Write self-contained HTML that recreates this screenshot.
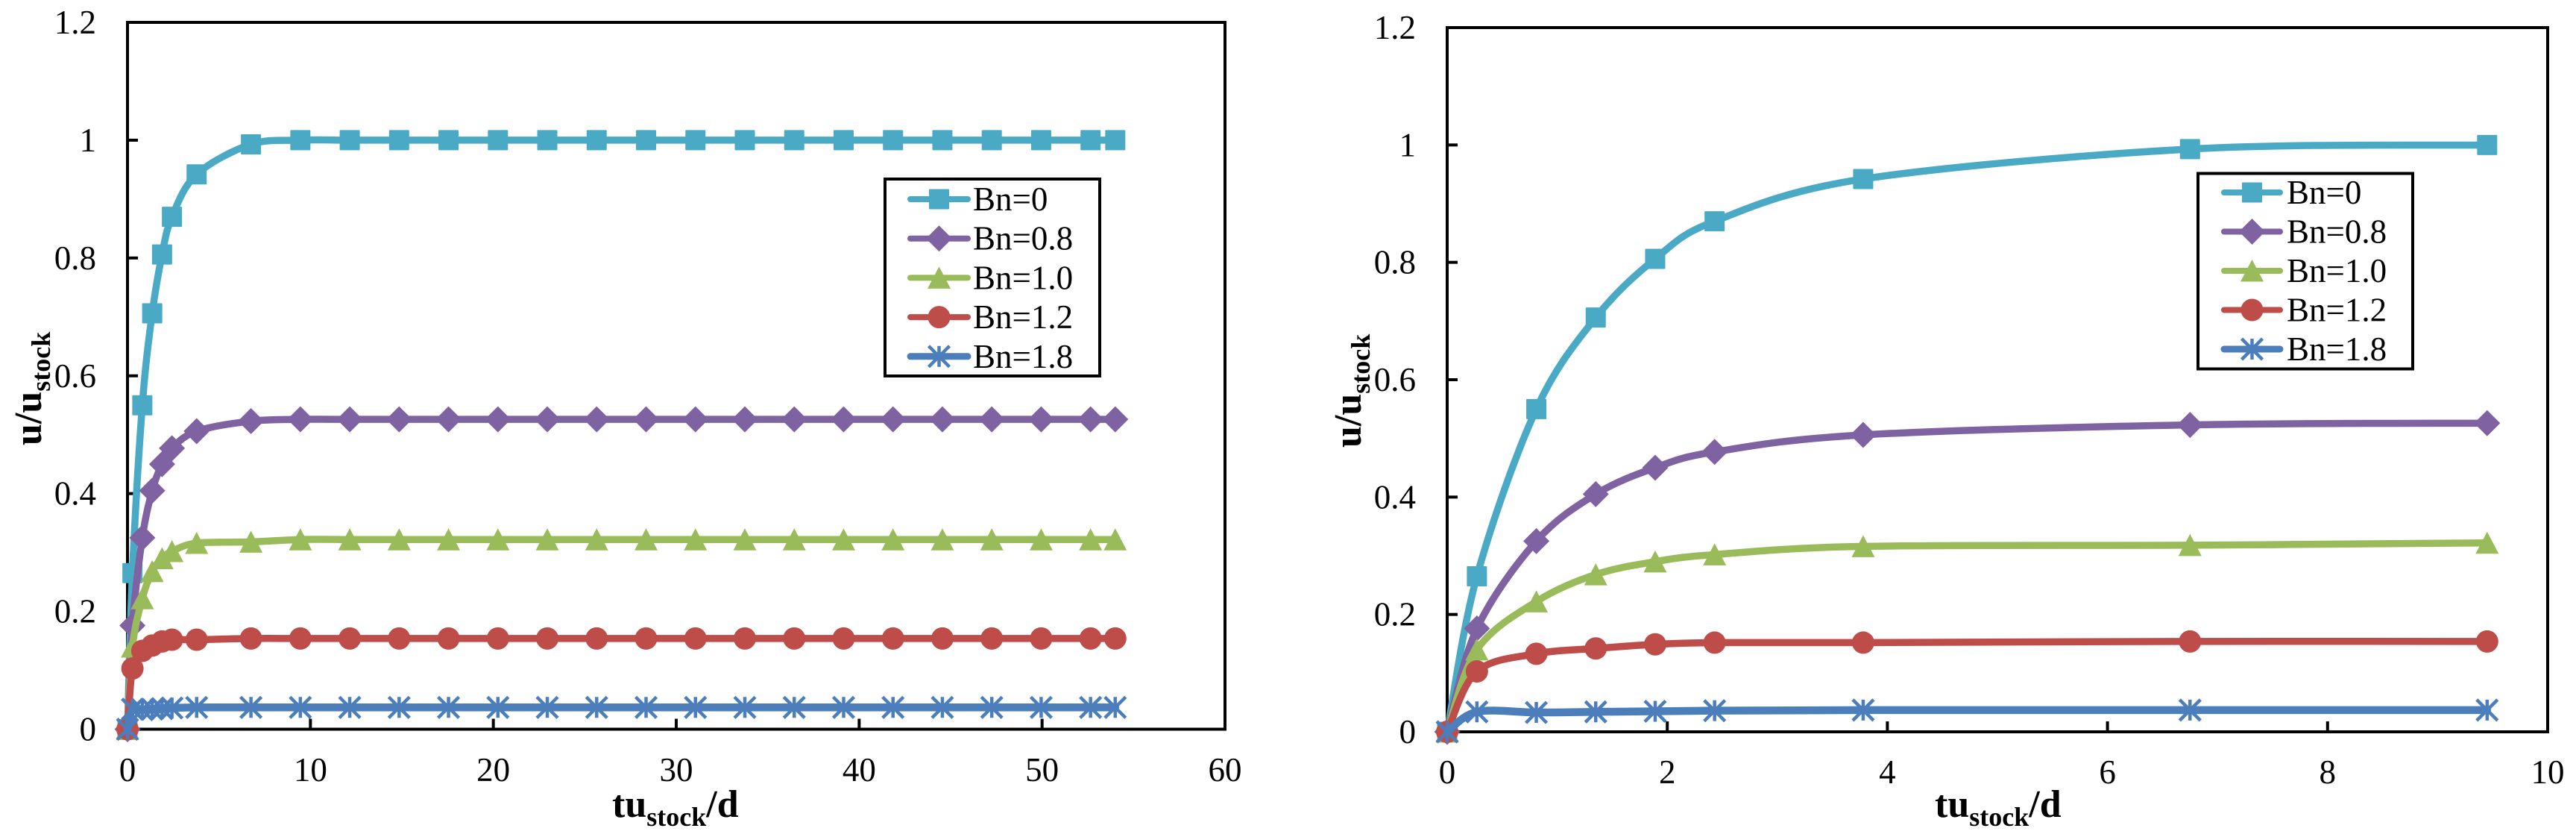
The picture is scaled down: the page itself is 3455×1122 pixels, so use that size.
<!DOCTYPE html>
<html lang="en">
<head>
<meta charset="utf-8">
<title>Velocity ratio charts</title>
<style>
html,body{margin:0;padding:0;background:#fff;width:3455px;height:1122px;overflow:hidden}
svg{display:block}
text{font-family:"Liberation Serif",serif;fill:#000}
</style>
</head>
<body>
<svg id="figure" xmlns="http://www.w3.org/2000/svg" width="3455" height="1122" viewBox="0 0 3455 1122"></svg>
<script>
// Shared data: time values and five Bn series
const tuValues = [0,0.27,0.81,1.35,1.89,2.43,3.78,6.75,9.45,12.15,14.85,17.55,20.25,22.95,25.65,28.35,31.05,33.75,36.45,39.15,41.85,44.55,47.25,49.95,52.65,54];
const bn0Values = [0,0.265,0.55,0.706,0.806,0.87,0.942,0.993,1,1,1,1,1,1,1,1,1,1,1,1,1,1,1,1,1,1];
const bn08Values = [0,0.176,0.325,0.405,0.45,0.477,0.506,0.523,0.526,0.526,0.526,0.526,0.526,0.526,0.526,0.526,0.526,0.526,0.526,0.526,0.526,0.526,0.526,0.526,0.526,0.526];
const bn10Values = [0,0.14,0.222,0.268,0.29,0.302,0.316,0.318,0.322,0.322,0.322,0.322,0.322,0.322,0.322,0.322,0.322,0.322,0.322,0.322,0.322,0.322,0.322,0.322,0.322,0.322];
const bn12Values = [0,0.103,0.133,0.142,0.149,0.152,0.152,0.154,0.154,0.154,0.154,0.154,0.154,0.154,0.154,0.154,0.154,0.154,0.154,0.154,0.154,0.154,0.154,0.154,0.154,0.154];
const bn18Values = [0,0.034,0.033,0.034,0.035,0.036,0.037,0.037,0.037,0.037,0.037,0.037,0.037,0.037,0.037,0.037,0.037,0.037,0.037,0.037,0.037,0.037,0.037,0.037,0.037,0.037];
const seriesLabels = ["Bn=0","Bn=0.8","Bn=1.0","Bn=1.2","Bn=1.8"];
const yTickValues = [0,0.2,0.4,0.6,0.8,1,1.2];
const leftXTickValues = [0,10,20,30,40,50,60];
const rightXTickValues = [0,2,4,6,8,10];
const rightPointCount = 9;

const NS = "http://www.w3.org/2000/svg";
const figure = document.getElementById("figure");
const seriesStyles = [
  {key:"bn-0", values:bn0Values, color:"#4AAAC5", marker:"square", width:9.5},
  {key:"bn-0-8", values:bn08Values, color:"#7F62A1", marker:"diamond", width:9.5},
  {key:"bn-1-0", values:bn10Values, color:"#9ABB59", marker:"triangle", width:9.5},
  {key:"bn-1-2", values:bn12Values, color:"#BE4D4A", marker:"circle", width:9.5},
  {key:"bn-1-8", values:bn18Values, color:"#4B7EBB", marker:"star", width:10.5}
];

function make(tag, attrs, parent){
  const el = document.createElementNS(NS, tag);
  for (const k in attrs) el.setAttribute(k, attrs[k]);
  parent.appendChild(el);
  return el;
}

function smoothPath(pts){
  let d = "M" + pts[0][0] + " " + pts[0][1];
  for (let i = 0; i < pts.length - 1; i++){
    const p0 = pts[Math.max(i-1,0)], p1 = pts[i], p2 = pts[i+1], p3 = pts[Math.min(i+2,pts.length-1)];
    const c1x = p1[0] + (p2[0]-p0[0])/6, c1y = p1[1] + (p2[1]-p0[1])/6;
    const c2x = p2[0] - (p3[0]-p1[0])/6, c2y = p2[1] - (p3[1]-p1[1])/6;
    d += "C" + c1x + " " + c1y + " " + c2x + " " + c2y + " " + p2[0] + " " + p2[1];
  }
  return d;
}

function drawMarker(parent, type, x, y, color){
  let el;
  if (type === "square"){
    el = make("rect", {x:x-13.5, y:y-13.5, width:27, height:27, rx:1, fill:color}, parent);
  } else if (type === "diamond"){
    el = make("polygon", {points:[[x,y-17.5],[x+17.5,y],[x,y+17.5],[x-17.5,y]].join(" "), fill:color}, parent);
  } else if (type === "triangle"){
    el = make("polygon", {points:[[x,y-15],[x+15.5,y+14.5],[x-15.5,y+14.5]].join(" "), fill:color}, parent);
  } else if (type === "circle"){
    el = make("ellipse", {cx:x, cy:y, rx:15, ry:15, fill:color}, parent);
  } else {
    const r = 14;
    el = make("path", {d:"M"+(x-r)+" "+(y-r)+"L"+(x+r)+" "+(y+r)+"M"+(x+r)+" "+(y-r)+"L"+(x-r)+" "+(y+r)+"M"+x+" "+(y-r)+"L"+x+" "+(y+r), stroke:color, "stroke-width":4.5, fill:"none"}, parent);
  }
  return el;
}

function drawTitle(parent, x, y, mainA, sub, mainB, anchorTransform){
  const t = make("text", {x:x, y:y, "font-size":52, "font-weight":"bold"}, parent);
  if (anchorTransform) t.setAttribute("transform", anchorTransform);
  const a = make("tspan", {}, t); a.textContent = mainA;
  const b = make("tspan", {dy:12, "font-size":36}, t); b.textContent = sub;
  const c = make("tspan", {dy:-12}, t); c.textContent = mainB;
  return t;
}

function drawChart(cfg){
  const g = make("g", {}, figure);
  
  
  const xScale = v => cfg.left + (v - cfg.xMin) / (cfg.xMax - cfg.xMin) * (cfg.right - cfg.left);
  const yScale = v => cfg.bottom - (v - 0) / (1.2 - 0) * (cfg.bottom - cfg.top);

  const frame = make("rect", {x:cfg.left, y:cfg.top, width:cfg.right-cfg.left, height:cfg.bottom-cfg.top, fill:"#fff", stroke:"#000", "stroke-width":4}, g);
  
  

  cfg.xTicks.forEach(v => {
    const x = xScale(v);
    const tick = make("line", {x1:x, x2:x, y1:cfg.bottom, y2:cfg.bottom-14, stroke:"#000", "stroke-width":4}, g);
    
    
    const lab = make("text", {x:x, y:cfg.xLabelBaseline, "font-size":45, "text-anchor":"middle"}, g);
    
    
    lab.textContent = String(v);
  });
  yTickValues.forEach(v => {
    const y = yScale(v);
    const tick = make("line", {x1:cfg.left, x2:cfg.left+14, y1:y, y2:y, stroke:"#000", "stroke-width":4}, g);
    
    
    const lab = make("text", {x:cfg.yLabelRight, y:y+15, "font-size":45, "text-anchor":"end"}, g);
    
    
    lab.textContent = String(v);
  });

  const xt = drawTitle(g, cfg.xTitleX, 1095, "tu", "stock", "/d");
  
  
  const yt = drawTitle(g, 0, 0, "u/u", "stock", "", "translate(" + cfg.yTitleX + " " + cfg.yTitleY + ") rotate(-90)");
  
  

  seriesStyles.forEach(s => {
    const sg = make("g", {}, g);
    
    
    const pts = [];
    for (let i = 0; i < cfg.count; i++) pts.push([xScale(tuValues[i]), yScale(s.values[i])]);
    const line = make("path", {d:smoothPath(pts), fill:"none", stroke:s.color, "stroke-width":s.width, "stroke-linejoin":"round", "stroke-linecap":"round"}, sg);
    
    
    pts.forEach(p => {
      const m = drawMarker(sg, s.marker, p[0], p[1], s.color);
      
      
    });
  });

  const lg = make("g", {}, g);
  
  
  const box = make("rect", {x:cfg.legend.x, y:cfg.legend.y, width:cfg.legend.w, height:cfg.legend.h, fill:"#fff", stroke:"#000", "stroke-width":4}, lg);
  
  
  seriesStyles.forEach((s, i) => {
    const eg = make("g", {}, lg);
    
    
    const y = cfg.legend.rowStart + i * cfg.legend.rowGap;
    make("line", {x1:cfg.legend.lineX1, x2:cfg.legend.lineX2, y1:y, y2:y, stroke:s.color, "stroke-width":s.width-1.5, "stroke-linecap":"round"}, eg);
    drawMarker(eg, s.marker, (cfg.legend.lineX1+cfg.legend.lineX2)/2, y, s.color);
    const t = make("text", {x:cfg.legend.textX, y:y+15, "font-size":45}, eg);
    
    
    t.textContent = seriesLabels[i];
  });
}

drawChart({
  name:"chart-full-range", left:171, right:1643, top:30, bottom:977.5, xMin:0, xMax:60,
  xTicks:leftXTickValues, count:tuValues.length, xLabelBaseline:1047, yLabelRight:129,
  xTitleX:821, yTitleX:55, yTitleY:597,
  legend:{x:1187,y:240,w:288,h:264,lineX1:1221,lineX2:1298,rowStart:267,rowGap:52.7,textX:1305}
});
drawChart({
  name:"chart-early-range", left:1941, right:3417, top:37, bottom:981, xMin:0, xMax:10,
  xTicks:rightXTickValues, count:rightPointCount, xLabelBaseline:1050, yLabelRight:1899,
  xTitleX:2595, yTitleX:1825, yTitleY:600,
  legend:{x:2948,y:232.5,w:288,h:262,lineX1:2983,lineX2:3058,rowStart:258,rowGap:52.5,textX:3067}
});
</script>
</body>
</html>
